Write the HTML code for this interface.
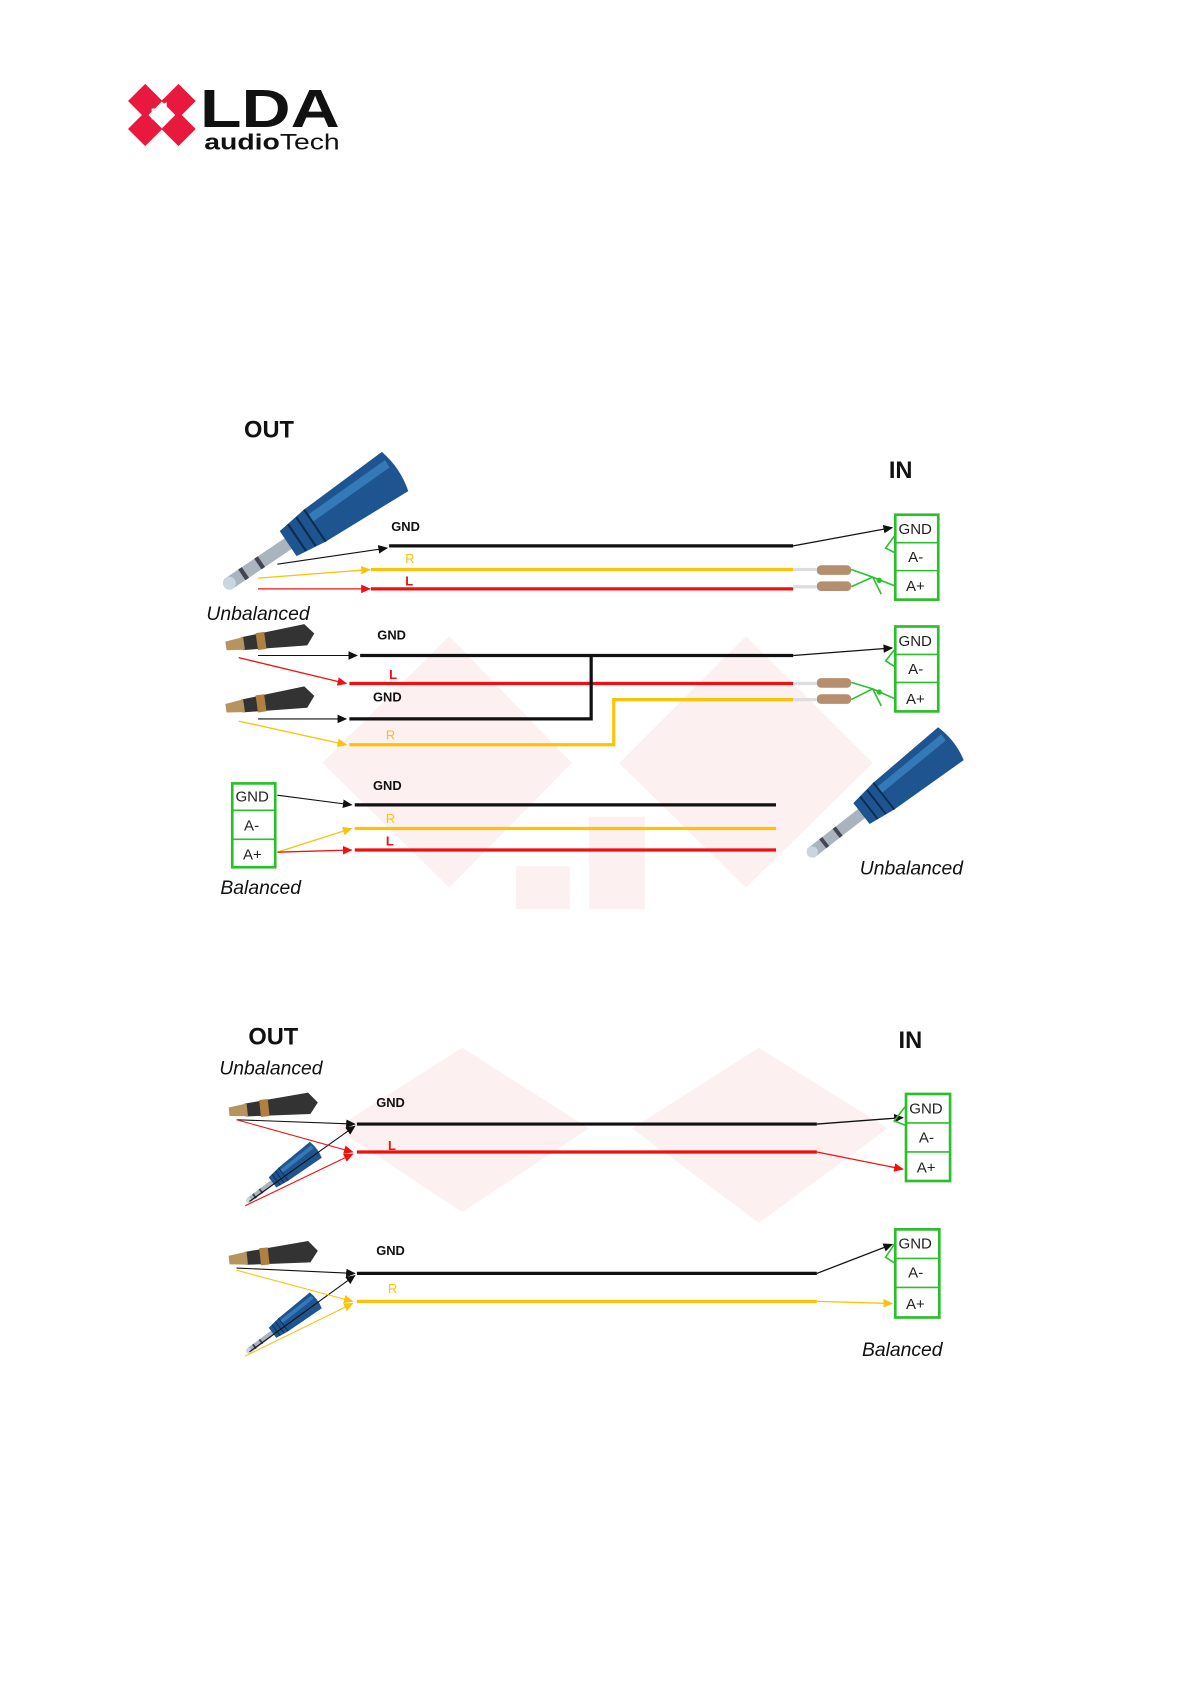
<!DOCTYPE html>
<html><head><meta charset="utf-8"><style>
html,body{margin:0;padding:0;background:#fff}
svg{display:block}
text{font-family:"Liberation Sans",sans-serif}
.lb{font-size:12px;font-weight:bold;fill:#111}
.bx{font-size:14px;fill:#222}
.it{font-size:18px;font-style:italic;fill:#111}
.hd{font-size:22px;font-weight:bold;fill:#111}
</style></head><body>
<svg width="1192" height="1685" viewBox="0 0 1109 1568" xmlns="http://www.w3.org/2000/svg">
<defs>
<marker id="ak" markerWidth="9" markerHeight="8" refX="8" refY="4" orient="auto" markerUnits="userSpaceOnUse"><path d="M0,0 L9,4 L0,8 z" fill="#111"/></marker>
<marker id="ay" markerWidth="9" markerHeight="8" refX="8" refY="4" orient="auto" markerUnits="userSpaceOnUse"><path d="M0,0 L9,4 L0,8 z" fill="#fbc20a"/></marker>
<marker id="ar" markerWidth="9" markerHeight="8" refX="8" refY="4" orient="auto" markerUnits="userSpaceOnUse"><path d="M0,0 L9,4 L0,8 z" fill="#f01010"/></marker>
<g id="jack">
<rect x="2" y="-6" width="72" height="12" fill="#a9b4bf"/>
<rect x="18" y="-6" width="4" height="12" fill="#445"/><rect x="36" y="-6" width="4" height="12" fill="#445"/>
<circle cx="4" cy="0" r="6" fill="#c9d6e0"/>
<path d="M70,-14 L100,-18 L190,-22 Q196,0 190,22 L100,18 L70,14 Z" fill="#1e5590"/>
<path d="M100,-12 L188,-14 L188,-6 L100,-4 Z" fill="#3d8ac9" opacity="0.7"/>
<path d="M80,-15 L80,15 M90,-16 L90,16 M100,-18 L100,18" stroke="#0c2c50" stroke-width="2"/>
</g>
<g id="rca">
<path d="M0,-6 L60,-10 L68,0 L60,10 L0,6 Z" fill="#333"/>
<rect x="14" y="-8" width="8" height="16" fill="#b08040"/>
<path d="M-15,-4 L2,-6 L2,6 L-15,4 Z" fill="#b59460"/>
</g>
</defs>
<!-- watermark -->
<g fill="#fcf0f1">
<polygon points="418,592 532,710 418,826 300,710"/>
<polygon points="694,592 812,710 694,826 576,710"/>
<rect x="480" y="806" width="50" height="40"/><rect x="548" y="760" width="52" height="86"/>
<polygon points="430,975 548,1050 430,1128 312,1050"/>
<polygon points="706,975 826,1050 706,1138 588,1050"/>
</g>
<!-- logo -->
<g fill="#e8193c">
<polygon points="135,78 151,94 135,110 119,94"/>
<polygon points="166,78 182,94 166,110 150,94"/>
<polygon points="135,104 151,120 135,136 119,120"/>
<polygon points="166,104 182,120 166,136 150,120"/>
</g>
<rect x="141" y="101" width="5" height="10" fill="#fff"/><polygon points="147,99 155,95 155,115 147,111" fill="#fff"/>
<text x="186" y="118" font-size="50" font-weight="bold" fill="#111" textLength="130" lengthAdjust="spacingAndGlyphs">LDA</text>
<text x="190" y="139" font-size="21" fill="#111" textLength="126" lengthAdjust="spacingAndGlyphs"><tspan font-weight="bold">audio</tspan>Tech</text>

<!-- Diagram 1 -->
<text x="227" y="407" class="hd">OUT</text>
<text x="827" y="445" class="hd">IN</text>
<g transform="translate(210,545) rotate(-34) scale(1)"><use href="#jack"/></g>
<text x="192" y="577" class="it">Unbalanced</text>
<g stroke-width="3" fill="none">
<text x="364" y="494" class="lb">GND</text>
<line x1="258" y1="525" x2="360" y2="510" stroke="#111" stroke-width="1" marker-end="url(#ak)"/>
<line x1="362" y1="508" x2="738" y2="508" stroke="#111"/>
<line x1="738" y1="508" x2="830" y2="491" stroke="#111" stroke-width="1.2" marker-end="url(#ak)"/>
<text x="377" y="524" style="font-size:12px;fill:#fbc20a">R</text>
<line x1="240" y1="538" x2="344" y2="530" stroke="#fbc20a" stroke-width="1.2" marker-end="url(#ay)"/>
<line x1="345" y1="530" x2="738" y2="530" stroke="#fbc20a"/>
<text x="377" y="545" style="font-size:12px;fill:#f01010;font-weight:bold">L</text>
<line x1="240" y1="548" x2="344" y2="548" stroke="#f01010" stroke-width="1.2" marker-end="url(#ar)"/>
<line x1="345" y1="548" x2="738" y2="548" stroke="#f01010"/>
</g>
<g>
<rect x="760" y="526" width="32" height="9" rx="4" fill="#b58e70"/><rect x="760" y="541" width="32" height="9" rx="4" fill="#b58e70"/>
<line x1="738" y1="530" x2="760" y2="530" stroke="#ddd" stroke-width="3"/><line x1="738" y1="546" x2="760" y2="546" stroke="#ddd" stroke-width="3"/>
<path d="M792,530 L812,537 L832,545 M792,546 L812,537 M812,537 L820,553" stroke="#2bc02b" stroke-width="1.5" fill="none"/>
<circle cx="818" cy="540" r="2.5" fill="#2bc02b"/>
<path d="M832,499 L824,510 L832,514" stroke="#2bc02b" stroke-width="1.5" fill="none"/>
<rect x="833" y="479" width="40" height="79" fill="#fff" stroke="#2bc02b" stroke-width="2.5"/>
<line x1="833" y1="505" x2="873" y2="505" stroke="#2bc02b" stroke-width="1.5"/><line x1="833" y1="531" x2="873" y2="531" stroke="#2bc02b" stroke-width="1.5"/>
<text x="836" y="497" class="bx">GND</text><text x="845" y="523" class="bx">A-</text><text x="843" y="550" class="bx">A+</text>
</g>
<!-- section 2 -->
<use href="#rca" x="225" y="599" transform="rotate(-8 225 599)"/>
<use href="#rca" x="225" y="657" transform="rotate(-8 225 657)"/>
<g stroke-width="3" fill="none">
<text x="351" y="595" class="lb">GND</text>
<line x1="240" y1="610" x2="332" y2="610" stroke="#111" stroke-width="1" marker-end="url(#ak)"/>
<line x1="335" y1="610" x2="738" y2="610" stroke="#111"/>
<line x1="738" y1="610" x2="830" y2="603" stroke="#111" stroke-width="1.2" marker-end="url(#ak)"/>
<text x="362" y="632" style="font-size:12px;fill:#f01010;font-weight:bold">L</text>
<line x1="222" y1="612" x2="322" y2="636" stroke="#f01010" stroke-width="1.2" marker-end="url(#ar)"/>
<line x1="325" y1="636" x2="738" y2="636" stroke="#f01010"/>
<text x="347" y="653" class="lb">GND</text>
<line x1="240" y1="669" x2="322" y2="669" stroke="#111" stroke-width="1" marker-end="url(#ak)"/>
<polyline points="325,669 550,669 550,610" stroke="#111"/>
<text x="359" y="688" style="font-size:12px;fill:#fbc20a">R</text>
<line x1="222" y1="671" x2="322" y2="693" stroke="#fbc20a" stroke-width="1.2" marker-end="url(#ay)"/>
<polyline points="325,693 571,693 571,651 738,651" stroke="#fbc20a"/>
</g>
<rect x="760" y="631" width="32" height="9" rx="4" fill="#b58e70"/><rect x="760" y="646" width="32" height="9" rx="4" fill="#b58e70"/>
<line x1="738" y1="636" x2="760" y2="636" stroke="#ddd" stroke-width="3"/><line x1="738" y1="651" x2="760" y2="651" stroke="#ddd" stroke-width="3"/>
<path d="M792,635 L812,641 L832,650 M792,651 L812,641 M812,641 L820,657" stroke="#2bc02b" stroke-width="1.5" fill="none"/>
<circle cx="818" cy="644" r="2.5" fill="#2bc02b"/>
<path d="M832,605 L824,615 L832,620" stroke="#2bc02b" stroke-width="1.5" fill="none"/>
<rect x="833" y="583" width="40" height="79" fill="#fff" stroke="#2bc02b" stroke-width="2.5"/>
<line x1="833" y1="609" x2="873" y2="609" stroke="#2bc02b" stroke-width="1.5"/><line x1="833" y1="635" x2="873" y2="635" stroke="#2bc02b" stroke-width="1.5"/>
<text x="836" y="601" class="bx">GND</text><text x="845" y="627" class="bx">A-</text><text x="843" y="655" class="bx">A+</text>
<!-- section 3 -->
<rect x="216" y="729" width="40" height="78" fill="#fff" stroke="#2bc02b" stroke-width="2.5"/>
<line x1="216" y1="754" x2="256" y2="754" stroke="#2bc02b" stroke-width="1.5"/><line x1="216" y1="781" x2="256" y2="781" stroke="#2bc02b" stroke-width="1.5"/>
<text x="219" y="746" class="bx">GND</text><text x="227" y="773" class="bx">A-</text><text x="226" y="800" class="bx">A+</text>
<g stroke-width="3" fill="none">
<text x="347" y="735" class="lb">GND</text>
<line x1="258" y1="740" x2="327" y2="749" stroke="#111" stroke-width="1" marker-end="url(#ak)"/>
<line x1="330" y1="749" x2="722" y2="749" stroke="#111"/>
<text x="359" y="766" style="font-size:12px;fill:#fbc20a">R</text>
<line x1="258" y1="793" x2="327" y2="771" stroke="#fbc20a" stroke-width="1.2" marker-end="url(#ay)"/>
<line x1="330" y1="771" x2="722" y2="771" stroke="#fbc20a"/>
<text x="359" y="787" style="font-size:12px;fill:#f01010;font-weight:bold">L</text>
<line x1="258" y1="793" x2="327" y2="791" stroke="#f01010" stroke-width="1.2" marker-end="url(#ar)"/>
<line x1="330" y1="791" x2="722" y2="791" stroke="#f01010"/>
</g>
<g transform="translate(753,795) rotate(-38) scale(0.88)"><use href="#jack"/></g>
<text x="800" y="814" class="it">Unbalanced</text>
<text x="205" y="832" class="it">Balanced</text>

<!-- Diagram 2 -->
<text x="231" y="972" class="hd">OUT</text>
<text x="836" y="975" class="hd">IN</text>
<text x="204" y="1000" class="it">Unbalanced</text>
<use href="#rca" x="228" y="1033" transform="rotate(-6 228 1033)"/>
<use href="#rca" x="228" y="1171" transform="rotate(-6 228 1171)"/>
<g transform="translate(230,1118) rotate(-37) scale(0.42)"><use href="#jack"/></g>
<g transform="translate(230,1258) rotate(-37) scale(0.42)"><use href="#jack"/></g>
<g stroke-width="3" fill="none">
<text x="350" y="1030" class="lb">GND</text>
<line x1="220" y1="1042" x2="330" y2="1046" stroke="#111" stroke-width="1" marker-end="url(#ak)"/>
<line x1="232" y1="1118" x2="330" y2="1048" stroke="#111" stroke-width="1" marker-end="url(#ak)"/>
<line x1="332" y1="1046" x2="760" y2="1046" stroke="#111"/>
<line x1="760" y1="1046" x2="840" y2="1040" stroke="#111" stroke-width="1.2" marker-end="url(#ak)"/>
<text x="361" y="1070" style="font-size:12px;fill:#f01010;font-weight:bold">L</text>
<line x1="220" y1="1042" x2="328" y2="1072" stroke="#f01010" stroke-width="1" marker-end="url(#ar)"/>
<line x1="228" y1="1122" x2="328" y2="1074" stroke="#f01010" stroke-width="1" marker-end="url(#ar)"/>
<line x1="332" y1="1072" x2="760" y2="1072" stroke="#f01010"/>
<line x1="760" y1="1072" x2="840" y2="1088" stroke="#f01010" stroke-width="1.2" marker-end="url(#ar)"/>
<text x="350" y="1168" class="lb">GND</text>
<line x1="220" y1="1180" x2="330" y2="1185" stroke="#111" stroke-width="1" marker-end="url(#ak)"/>
<line x1="232" y1="1258" x2="330" y2="1187" stroke="#111" stroke-width="1" marker-end="url(#ak)"/>
<line x1="332" y1="1185" x2="760" y2="1185" stroke="#111"/>
<line x1="760" y1="1185" x2="830" y2="1158" stroke="#111" stroke-width="1.2" marker-end="url(#ak)"/>
<text x="361" y="1203" style="font-size:12px;fill:#fbc20a">R</text>
<line x1="220" y1="1182" x2="328" y2="1211" stroke="#fbc20a" stroke-width="1" marker-end="url(#ay)"/>
<line x1="228" y1="1262" x2="328" y2="1213" stroke="#fbc20a" stroke-width="1" marker-end="url(#ay)"/>
<line x1="332" y1="1211" x2="760" y2="1211" stroke="#fbc20a"/>
<line x1="760" y1="1211" x2="830" y2="1213" stroke="#fbc20a" stroke-width="1.2" marker-end="url(#ay)"/>
</g>
<path d="M842,1030 L832,1043 L842,1047" stroke="#2bc02b" stroke-width="1.5" fill="none"/>
<rect x="843" y="1018" width="41" height="81" fill="#fff" stroke="#2bc02b" stroke-width="2.5"/>
<line x1="843" y1="1045" x2="884" y2="1045" stroke="#2bc02b" stroke-width="1.5"/><line x1="843" y1="1072" x2="884" y2="1072" stroke="#2bc02b" stroke-width="1.5"/>
<text x="846" y="1036" class="bx">GND</text><text x="855" y="1063" class="bx">A-</text><text x="853" y="1091" class="bx">A+</text>
<path d="M832,1158 L824,1170 L832,1175" stroke="#2bc02b" stroke-width="1.5" fill="none"/>
<rect x="833" y="1144" width="41" height="82" fill="#fff" stroke="#2bc02b" stroke-width="2.5"/>
<line x1="833" y1="1171" x2="874" y2="1171" stroke="#2bc02b" stroke-width="1.5"/><line x1="833" y1="1198" x2="874" y2="1198" stroke="#2bc02b" stroke-width="1.5"/>
<text x="836" y="1162" class="bx">GND</text><text x="845" y="1189" class="bx">A-</text><text x="843" y="1218" class="bx">A+</text>
<text x="802" y="1262" class="it">Balanced</text>
</svg>
</body></html>
